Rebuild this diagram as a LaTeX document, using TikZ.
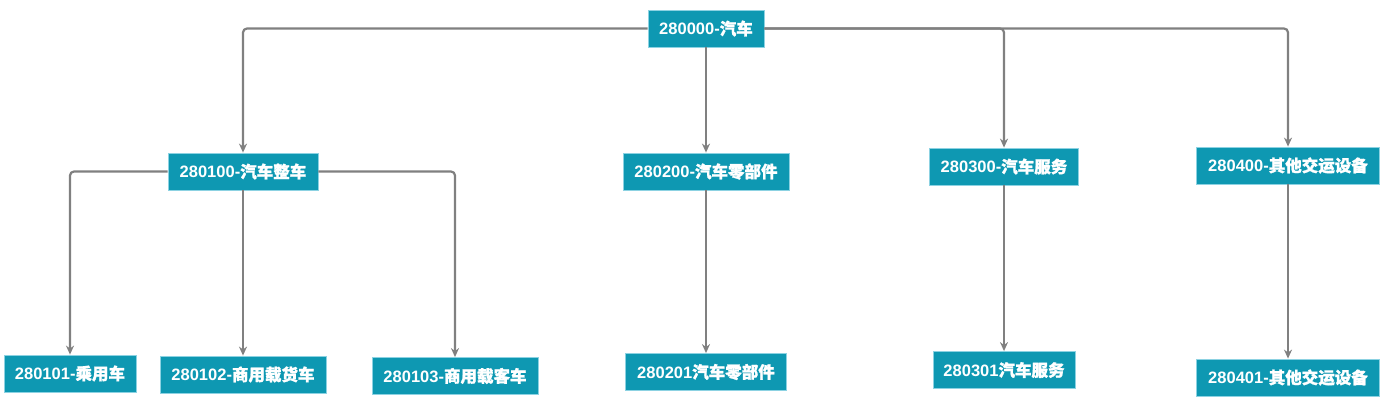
\documentclass[tikz,border=0pt]{standalone}
\usepackage{fontspec}
\setmainfont{Liberation Sans}
\newfontfamily\cjk{Noto Sans CJK SC Bold}[FakeBold=1.2]
\usetikzlibrary{arrows.meta}
\definecolor{boxfill}{RGB}{14,152,178}
\definecolor{boxline}{RGB}{140,210,226}
\definecolor{linkgray}{RGB}{128,128,128}
\tikzset{
  catbox/.style={draw=boxline, line width=0.8pt, fill=boxfill, text=white,
    font=\fontsize{16.5}{18}\selectfont\bfseries, minimum height=37pt,
    inner sep=0pt, align=center},
  arr/.style={draw=linkgray, line width=2.2pt, rounded corners=4pt,
    -{Stealth[length=9pt,width=8pt]}}
}
\begin{document}
\begin{tikzpicture}[x=1pt,y=-1pt]
\useasboundingbox (0,0) rectangle (1386,406);
\node[catbox, minimum width=116pt] (n0) at (706,28.5) {280000-{\cjk 汽车}};
\node[catbox, minimum width=150pt] (n1) at (243,171.5) {280100-{\cjk 汽车整车}};
\node[catbox, minimum width=166pt] (n2) at (706,171.5) {280200-{\cjk 汽车零部件}};
\node[catbox, minimum width=149pt] (n3) at (1004,166.5) {280300-{\cjk 汽车服务}};
\node[catbox, minimum width=183pt] (n4) at (1288,165.5) {280400-{\cjk 其他交运设备}};
\node[catbox, minimum width=132pt] (n11) at (70,373.5) {280101-{\cjk 乘用车}};
\node[catbox, minimum width=166pt] (n12) at (243,374.5) {280102-{\cjk 商用载货车}};
\node[catbox, minimum width=166pt] (n13) at (455,376) {280103-{\cjk 商用载客车}};
\node[catbox, minimum width=161pt] (n21) at (706,372) {280201{\cjk 汽车零部件}};
\node[catbox, minimum width=142pt] (n31) at (1004,370) {280301{\cjk 汽车服务}};
\node[catbox, minimum width=183pt] (n41) at (1288,377.5) {280401-{\cjk 其他交运设备}};
\draw[arr] (n0.west) -| (n1.north);
\draw[arr] (n0.east) -| (n3.north);
\draw[arr] (n0.east) -| (n4.north);
\draw[arr] (n0.south) -- (n2.north);
\draw[arr] (n1.west) -| (n11.north);
\draw[arr] (n1.east) -| (n13.north);
\draw[arr] (n1.south) -- (n12.north);
\draw[arr] (n2.south) -- (n21.north);
\draw[arr] (n3.south) -- (n31.north);
\draw[arr] (n4.south) -- (n41.north);
\end{tikzpicture}
\end{document}
